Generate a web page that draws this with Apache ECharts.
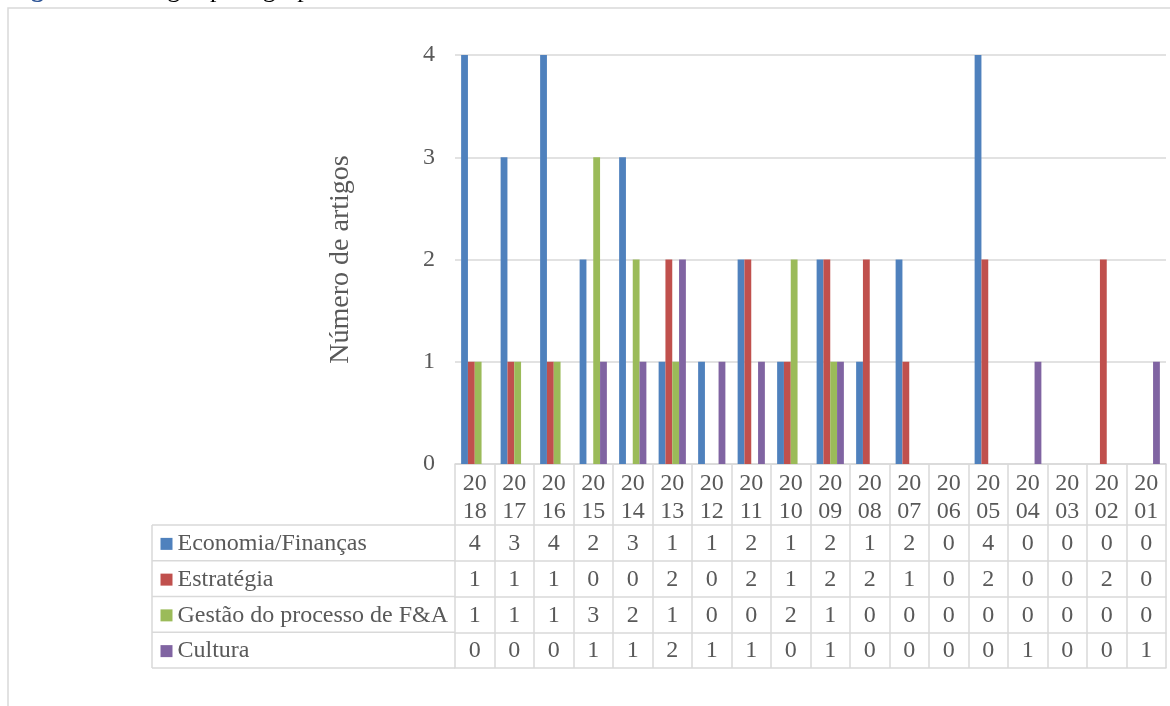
<!DOCTYPE html>
<html>
<head>
<meta charset="utf-8">
<script src="https://cdn.jsdelivr.net/npm/echarts@6/dist/echarts.min.js"></script>
<style>
  html, body { margin: 0; padding: 0; background: #fff; }
  #chart { width: 1170px; height: 706px; }
</style>
</head>
<body>
<div id="chart"></div>
<script>
// Publication years (categories), newest first
const years = ['2018', '2017', '2016', '2015', '2014', '2013', '2012', '2011', '2010',
               '2009', '2008', '2007', '2006', '2005', '2004', '2003', '2002', '2001'];

// Thematic groups
const groupNames = ['Economia/Finanças', 'Estratégia', 'Gestão do processo de F&A', 'Cultura'];

// Number of articles per group and year
const economia   = [4, 3, 4, 2, 3, 1, 1, 2, 1, 2, 1, 2, 0, 4, 0, 0, 0, 0];
const estrategia = [1, 1, 1, 0, 0, 2, 0, 2, 1, 2, 2, 1, 0, 2, 0, 0, 2, 0];
const gestao     = [1, 1, 1, 3, 2, 1, 0, 0, 2, 1, 0, 0, 0, 0, 0, 0, 0, 0];
const cultura    = [0, 0, 0, 1, 1, 2, 1, 1, 0, 1, 0, 0, 0, 0, 1, 0, 0, 1];

// Value axis range
const yMin = 0, yMax = 4, yStep = 1;

const groupValues = [economia, estrategia, gestao, cultura];
const colors = ['#4F81BD', '#C0504D', '#9BBB59', '#8064A2'];

const FONT = "'Liberation Serif', 'Times New Roman', serif";
const TEXT = '#595959';
const LINE = '#d9d9d9';

// Layout of plot area and the data table underneath it
const W = 1170, H = 706;
const GRID = { left: 455, right: 4, top: 55, bottom: 242 };
const HEADER_H = 61;
const ROW_H = 35.75;
const TABLE_LEFT = 152;
const axisBottomY = H - GRID.bottom;

const lineStyle = { color: LINE, width: 1.5 };

const xAxes = [];
// header row: year labels split over two lines
xAxes.push({
  type: 'category', data: years, gridIndex: 0, position: 'bottom', offset: 0,
  axisLine: { show: true, lineStyle },
  axisTick: { show: true, length: HEADER_H, interval: 0, lineStyle },
  axisLabel: {
    interval: 0, margin: HEADER_H / 2 + 3, verticalAlign: 'middle',
    fontFamily: FONT, fontSize: 24, lineHeight: 27.5, color: TEXT,
    formatter: (y) => y.slice(0, 2) + '\n' + y.slice(2)
  }
});
// one table row per group
groupValues.forEach((vals, k) => {
  xAxes.push({
    type: 'category', data: years, gridIndex: 0, position: 'bottom',
    offset: HEADER_H + k * ROW_H,
    axisLine: { show: true, lineStyle },
    axisTick: { show: true, length: ROW_H, interval: 0, lineStyle },
    axisLabel: {
      interval: 0, margin: ROW_H / 2 + 1, verticalAlign: 'middle',
      fontFamily: FONT, fontSize: 24, color: TEXT,
      formatter: (v, i) => String(vals[i])
    }
  });
});
// closing line at the bottom of the table
xAxes.push({
  type: 'category', data: years, gridIndex: 0, position: 'bottom',
  offset: HEADER_H + groupValues.length * ROW_H,
  axisLine: { show: true, lineStyle },
  axisTick: { show: false }, axisLabel: { show: false }
});

// left column of the table (legend cells)
const tableTop = axisBottomY + HEADER_H;
const tableBottom = tableTop + groupValues.length * ROW_H;
const leftCells = [];
for (let k = 0; k <= groupValues.length; k++) {
  const y = tableTop + k * ROW_H;
  leftCells.push({
    type: 'line', shape: { x1: TABLE_LEFT, y1: y, x2: GRID.left, y2: y },
    style: { stroke: LINE, lineWidth: 1.5 }, silent: true
  });
}
leftCells.push({
  type: 'line', shape: { x1: TABLE_LEFT, y1: tableTop, x2: TABLE_LEFT, y2: tableBottom },
  style: { stroke: LINE, lineWidth: 1.5 }, silent: true
});

const chart = echarts.init(document.getElementById('chart'), null, { renderer: 'canvas' });

chart.setOption({
  backgroundColor: '#ffffff',
  animation: false,
  color: colors,
  textStyle: { fontFamily: FONT },
  grid: { left: GRID.left, right: GRID.right, top: GRID.top, bottom: GRID.bottom, containLabel: false },
  legend: {
    data: groupNames,
    orient: 'vertical',
    left: 160.5, top: tableTop + (ROW_H - 24) / 2 + 1,
    padding: 0,
    icon: 'rect', itemWidth: 12, itemHeight: 12,
    itemGap: ROW_H - 24,
    selectedMode: false,
    textStyle: { fontFamily: FONT, fontSize: 24, lineHeight: 24, color: TEXT }
  },
  xAxis: xAxes,
  yAxis: {
    type: 'value', min: yMin, max: yMax, interval: yStep,
    name: 'Número de artigos', nameLocation: 'middle', nameGap: 100,
    nameTextStyle: { fontFamily: FONT, fontSize: 28, color: TEXT },
    axisLine: { show: false }, axisTick: { show: false },
    axisLabel: { fontFamily: FONT, fontSize: 24, color: TEXT, margin: 20 },
    splitLine: { show: true, lineStyle }
  },
  series: groupValues.map((vals, k) => ({
    name: groupNames[k],
    type: 'bar',
    xAxisIndex: 0,
    data: vals,
    barGap: '0%',
    barCategoryGap: '31%',
    itemStyle: { color: colors[k] }
  })),
  graphic: [
    {
      type: 'rect', silent: true,
      shape: { x: 8, y: 8, width: W, height: H },
      style: { fill: 'none', stroke: LINE, lineWidth: 1.5 }
    },
    {
      type: 'text', silent: true, x: 8, y: 3,
      style: {
        text: '{a|Figura 5} {b|– Artigos por agrupamento temático}',
        verticalAlign: 'bottom',
        rich: {
          a: { fontFamily: FONT, fontSize: 26, fontWeight: 'bold', fill: '#2E5597' },
          b: { fontFamily: FONT, fontSize: 26, fill: '#000000' }
        }
      }
    },
    ...leftCells
  ]
});
</script>
</body>
</html>
